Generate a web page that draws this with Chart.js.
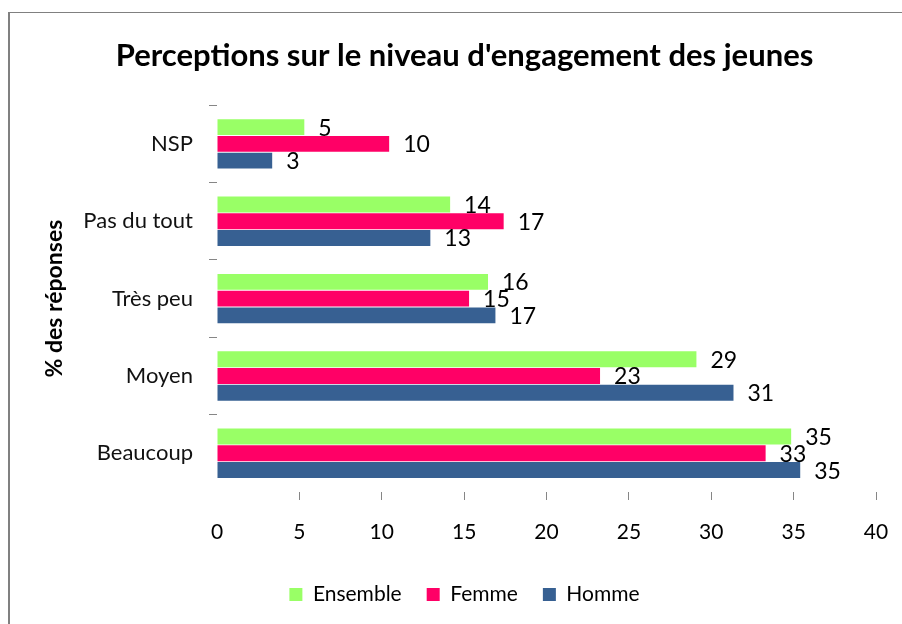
<!DOCTYPE html>
<html>
<head>
<meta charset="utf-8">
<script src="https://cdn.jsdelivr.net/npm/chart.js@4.4.1/dist/chart.umd.min.js"></script>
<style>
  html, body { margin: 0; padding: 0; background: #ffffff; }
  #wrap { width: 902px; height: 624px; position: relative; }
</style>
</head>
<body>
<div id="wrap"><canvas id="c" width="902" height="624"></canvas></div>
<script>
// ---- Data ----
const categories = ['NSP', 'Pas du tout', 'Très peu', 'Moyen', 'Beaucoup'];
const seriesNames = ['Ensemble', 'Femme', 'Homme'];
const ensembleValues = [5.3, 14.15, 16.45, 29.1, 34.85];
const femmeValues = [10.45, 17.4, 15.3, 23.25, 33.3];
const hommeValues = [3.35, 12.95, 16.9, 31.35, 35.4];
const xTickMin = 0;
const xTickMax = 40;
const xTickStep = 5;
const chartTitle = "Perceptions sur le niveau d'engagement des jeunes";
const yAxisTitle = '% des réponses';

const COLORS = ['#99FF66', '#FF0066', '#376092'];
const FONT = 'Lato, "Open Sans", "DejaVu Sans", sans-serif';
const GRAY = '#868686';
const HIDDEN = 'rgba(0,0,0,0)';

const framePlugin = {
  id: 'frame',
  beforeDraw(chart) {
    const ctx = chart.ctx;
    ctx.save();
    ctx.fillStyle = '#ffffff';
    ctx.fillRect(0, 0, chart.width, chart.height);
    ctx.strokeStyle = '#808080';
    ctx.lineWidth = 1;
    ctx.beginPath();
    ctx.moveTo(8, 12.5);
    ctx.lineTo(chart.width, 12.5);
    ctx.stroke();
    ctx.lineWidth = 2;
    ctx.beginPath();
    ctx.moveTo(9, 12);
    ctx.lineTo(9, chart.height);
    ctx.stroke();
    ctx.restore();
  }
};

const valueLabelPlugin = {
  id: 'valueLabels',
  afterDatasetsDraw(chart) {
    const ctx = chart.ctx;
    ctx.save();
    ctx.font = '23px ' + FONT;
    ctx.fillStyle = '#000000';
    ctx.textAlign = 'left';
    ctx.textBaseline = 'middle';
    chart.data.datasets.forEach((ds, di) => {
      const meta = chart.getDatasetMeta(di);
      meta.data.forEach((bar, i) => {
        const v = ds.data[i];
        ctx.fillText(String(Math.round(v)), bar.x + 14, bar.y + 1);
      });
    });
    ctx.restore();
  }
};

new Chart(document.getElementById('c'), {
  type: 'bar',
  data: {
    labels: categories,
    datasets: [
      { label: seriesNames[0], data: ensembleValues, backgroundColor: COLORS[0] },
      { label: seriesNames[1], data: femmeValues, backgroundColor: COLORS[1] },
      { label: seriesNames[2], data: hommeValues, backgroundColor: COLORS[2] }
    ]
  },
  options: {
    indexAxis: 'y',
    responsive: false,
    animation: false,
    devicePixelRatio: 1,
    categoryPercentage: 0.65,
    barPercentage: 0.95,
    layout: { padding: { left: 27, right: 0, top: 0, bottom: 9 } },
    plugins: {
      title: {
        display: true,
        text: chartTitle,
        color: '#000000',
        font: { family: FONT, size: 31, weight: 'bold' },
        padding: { top: 37, bottom: 31 }
      },
      legend: {
        display: true,
        position: 'bottom',
        labels: {
          boxWidth: 13,
          boxHeight: 13,
          padding: 25,
          color: '#000000',
          font: { family: FONT, size: 21 }
        }
      },
      tooltip: { enabled: false }
    },
    scales: {
      x: {
        type: 'linear',
        min: xTickMin,
        max: xTickMax,
        ticks: {
          stepSize: xTickStep,
          color: '#000000',
          font: { family: FONT, size: 21 },
          padding: 20
        },
        grid: {
          drawOnChartArea: false,
          drawTicks: true,
          tickLength: 8,
          tickColor: (ctx) => (ctx.type !== 'tick' || ctx.index === 0) ? HIDDEN : GRAY
        },
        border: { display: false },
        afterFit: (s) => { s.height = 67; s.paddingLeft = 8; s.paddingRight = 12; }
      },
      y: {
        type: 'category',
        offset: true,
        ticks: {
          color: '#111111',
          font: { family: FONT, size: 22 },
          padding: 16
        },
        grid: {
          offset: true,
          drawOnChartArea: false,
          drawTicks: true,
          tickLength: 8,
          tickColor: (ctx) => (ctx.type !== 'tick') ? HIDDEN : GRAY
        },
        border: { display: false },
        title: {
          display: true,
          text: yAxisTitle,
          color: '#000000',
          font: { family: FONT, size: 23, weight: 'bold' },
          padding: { top: 14, bottom: 14 }
        },
        afterFit: (s) => { s.width = 190; }
      },
      yRight: {
        type: 'linear',
        axis: 'y',
        position: 'right',
        display: true,
        ticks: { display: false },
        grid: { display: false, drawTicks: false },
        border: { display: false },
        afterFit: (s) => { s.width = 26; }
      }
    }
  },
  plugins: [framePlugin, valueLabelPlugin]
});
</script>
</body>
</html>
